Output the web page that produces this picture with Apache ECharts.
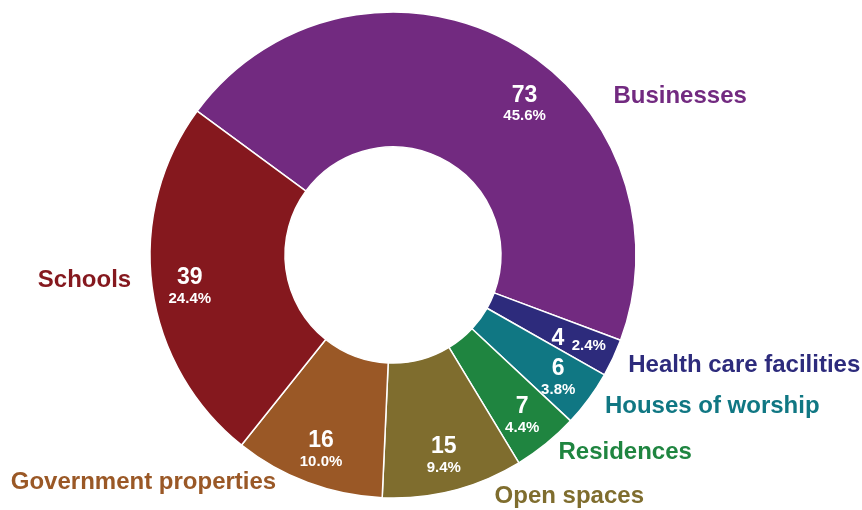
<!DOCTYPE html>
<html>
<head>
<meta charset="utf-8">
<script src="https://cdn.jsdelivr.net/npm/echarts@6/dist/echarts.min.js"></script>
<style>
html, body { margin: 0; padding: 0; background: #fff; }
#main { width: 862px; height: 510px; }
</style>
</head>
<body>
<div id="main"></div>
<script>
var chart = echarts.init(document.getElementById('main'));

// slices, clockwise from the Schools/Businesses boundary
var categories = ['Businesses', 'Health care facilities', 'Houses of worship', 'Residences', 'Open spaces', 'Government properties', 'Schools'];
var counts = [73, 4, 6, 7, 15, 16, 39];
var pctLabels = ['45.6%', '2.4%', '3.8%', '4.4%', '9.4%', '10.0%', '24.4%'];
var colors = ['#722a80', '#2d2b7c', '#107783', '#1f8540', '#7f6d2e', '#9a5826', '#85181e'];

// label nudges (dx, dy)
var outerShift = [[94, 64], [0, 3], [2, 2], [0, 1], [33, -4], [-22, -10], [-5, -8]];
var innerShift = [[34, 29], [0, -3], [0, 1], [0, 1], [0, 2], [0, 2], [0, 4]];

var center = [393, 255];
var startAngle = 143.7;

var outerData = [];
var innerData = [];
for (var i = 0; i < categories.length; i++) {
    outerData.push({
        name: categories[i],
        value: counts[i],
        itemStyle: { color: colors[i] },
        label: { color: colors[i] }
    });
    innerData.push({
        name: categories[i],
        value: counts[i],
        pct: pctLabels[i]
    });
}

option = {
    backgroundColor: '#fff',
    animation: false,
    series: [{
        type: 'pie',
        center: center,
        radius: [108, 243],
        startAngle: startAngle,
        clockwise: true,
        avoidLabelOverlap: false,
        silent: true,
        data: outerData,
        itemStyle: {
            borderColor: '#fff',
            borderWidth: 1.5
        },
        label: {
            show: true,
            position: 'outside',
            formatter: '{b}',
            fontFamily: '"Liberation Sans", Arial, sans-serif',
            fontWeight: 'bold',
            fontSize: 24
        },
        labelLine: {
            show: false,
            length: 10,
            length2: 1
        },
        labelLayout: function (params) {
            var s = outerShift[params.dataIndex];
            return { dx: s[0], dy: s[1] };
        }
    }, {
        type: 'pie',
        center: center,
        radius: [161, 243],
        startAngle: startAngle,
        clockwise: true,
        avoidLabelOverlap: false,
        silent: true,
        data: innerData,
        itemStyle: {
            color: 'rgba(0,0,0,0)',
            borderWidth: 0
        },
        label: {
            show: true,
            position: 'inside',
            color: '#fff',
            formatter: function (p) {
                if (p.dataIndex === 1) {
                    return '{v|' + p.value + '} {q|' + p.data.pct + '}';
                }
                return '{v|' + p.value + '}\n{p|' + p.data.pct + '}';
            },
            rich: {
                v: {
                    color: '#fff',
                    fontFamily: '"Liberation Sans", Arial, sans-serif',
                    fontWeight: 'bold',
                    fontSize: 23,
                    lineHeight: 25
                },
                p: {
                    color: '#fff',
                    fontFamily: '"Liberation Sans", Arial, sans-serif',
                    fontWeight: 'bold',
                    fontSize: 15,
                    lineHeight: 17
                },
                q: {
                    color: '#fff',
                    fontFamily: '"Liberation Sans", Arial, sans-serif',
                    fontWeight: 'bold',
                    fontSize: 15,
                    padding: [14, 0, 0, 4]
                }
            }
        },
        labelLine: { show: false },
        labelLayout: function (params) {
            var s = innerShift[params.dataIndex];
            return { dx: s[0], dy: s[1] };
        }
    }]
};

chart.setOption(option);
</script>
</body>
</html>
